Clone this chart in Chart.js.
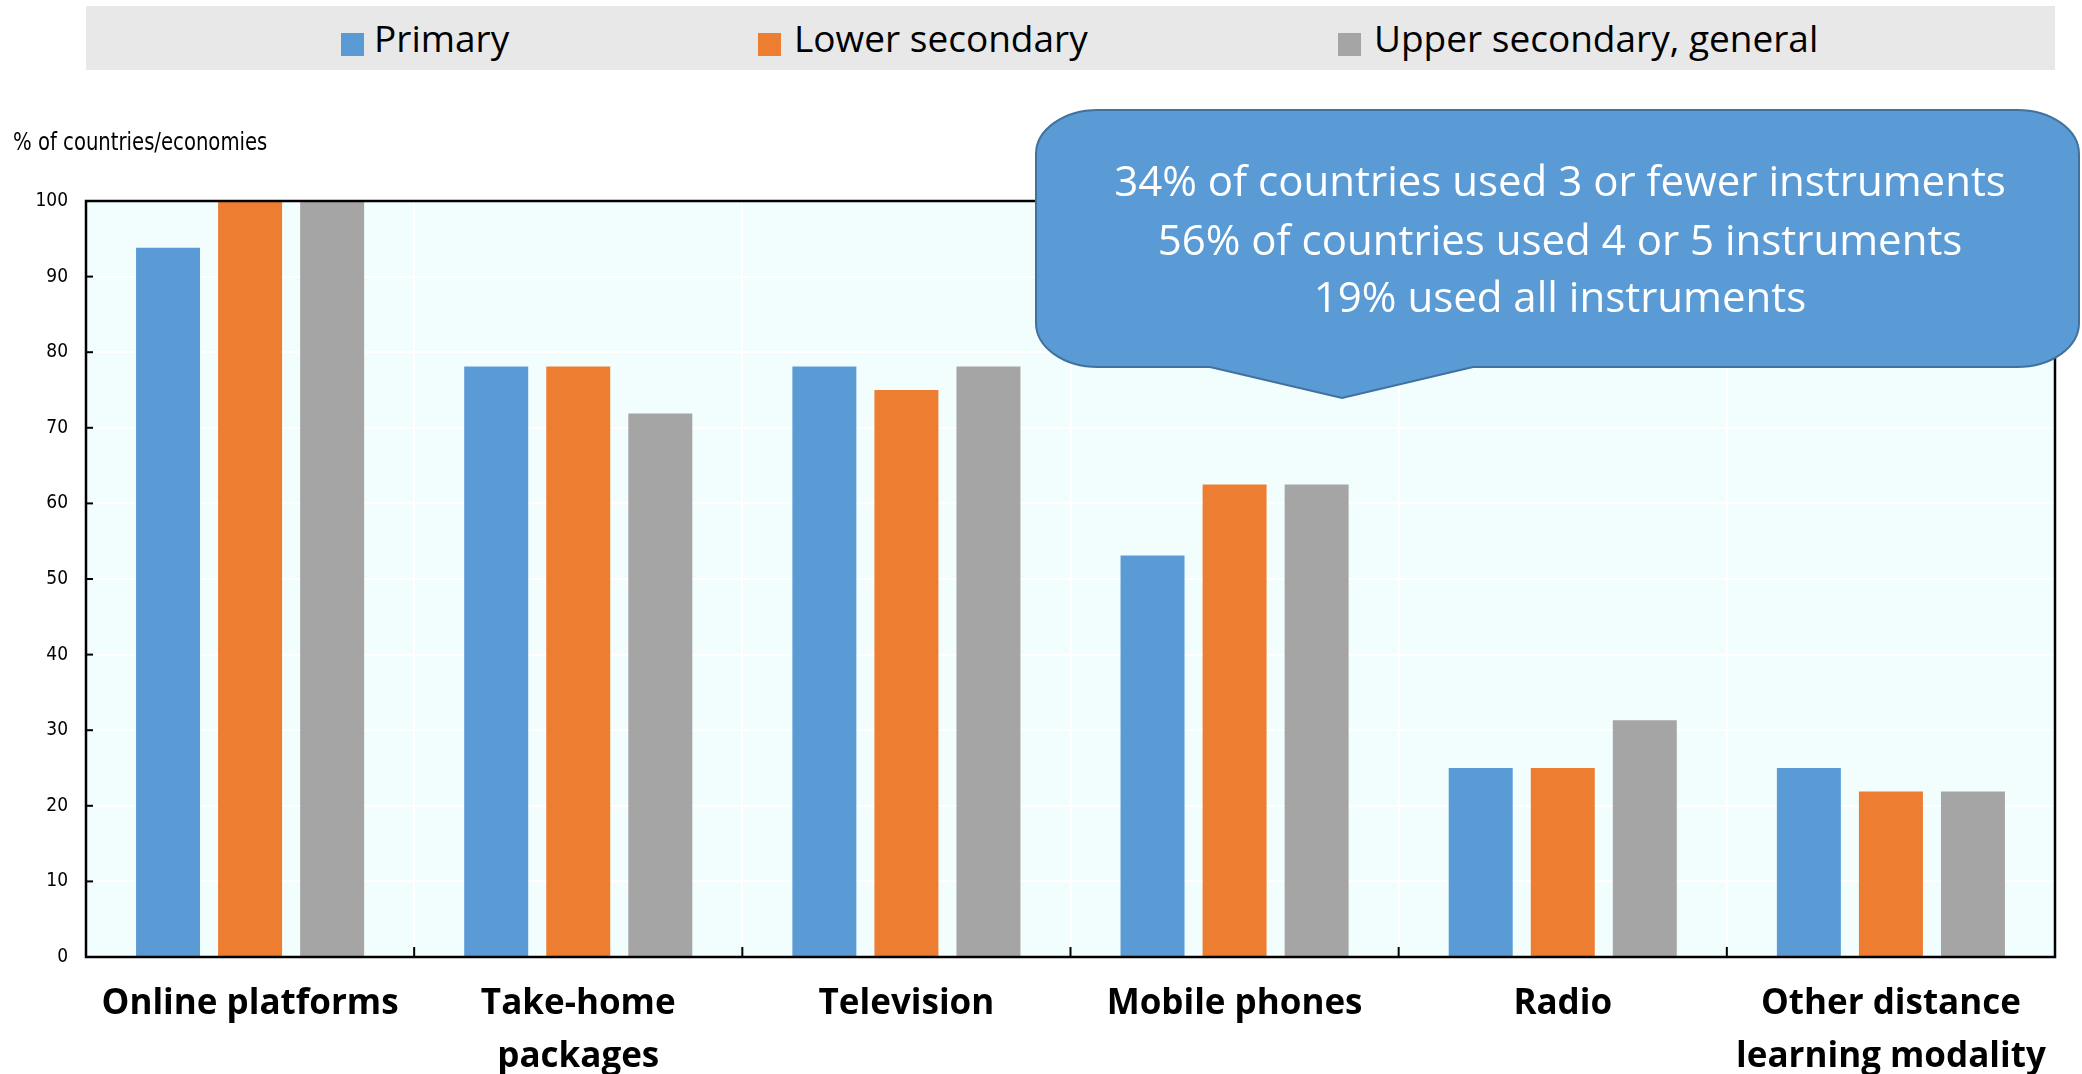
<!DOCTYPE html>
<html>
<head>
<meta charset="utf-8">
<script src="https://cdn.jsdelivr.net/npm/chart.js@4/dist/chart.umd.min.js"></script>
<style>
  html, body { margin: 0; padding: 0; background: #ffffff; }
  #wrap { position: relative; width: 2082px; height: 1074px; overflow: hidden; }
  #c { position: absolute; left: 0; top: 0; }
  #legend { position: absolute; left: 86px; top: 6px; width: 1969px; height: 64px; background: #e8e8e8; }
  .sw { position: absolute; top: 27px; width: 23px; height: 23px; }
  .lt { position: absolute; top: 0; height: 64px; line-height: 64px; font-family: "Open Sans", sans-serif; font-size: 37px; color: #000; white-space: nowrap; }
  #ytitle { position: absolute; left: 13px; top: 130px; font-family: "Liberation Sans Narrow", "DejaVu Sans Condensed", sans-serif; font-size: 24px; line-height: 24px; color: #000; white-space: nowrap; transform: scaleX(0.91); transform-origin: 0 0; }
</style>
</head>
<body>
<div id="wrap">
  <canvas id="c" width="2082" height="1074"></canvas>
  <div id="legend"></div>
  <div id="ytitle"></div>
</div>
<script>
// ---- data ----
const categories = ["Online platforms", ["Take-home", "packages"], "Television", "Mobile phones", "Radio", ["Other distance", "learning modality"]];
const seriesNames = ["Primary", "Lower secondary", "Upper secondary, general"];
const primary = [93.8, 78.1, 78.1, 53.1, 25.0, 25.0];
const lowerSecondary = [100, 78.1, 75.0, 62.5, 25.0, 21.9];
const upperSecondary = [100, 71.9, 78.1, 62.5, 31.3, 21.9];
const yAxisTitle = "% of countries/economies";
const yMin = 0, yMax = 100, yStep = 10;
const calloutLines = [
  "34% of countries used 3 or fewer instruments",
  "56% of countries used 4 or 5 instruments",
  "19% used all instruments"
];

// ---- styles ----
const colors = ["#5b9bd5", "#ed7d31", "#a5a5a5"];
const seriesValues = [primary, lowerSecondary, upperSecondary];

// HTML legend
const legendPos = [{sw: 341, tx: 374}, {sw: 758, tx: 794}, {sw: 1338, tx: 1374}];
const legend = document.getElementById('legend');
seriesNames.forEach((name, i) => {
  const sw = document.createElement('div');
  sw.className = 'sw';
  sw.style.left = (legendPos[i].sw - 86) + 'px';
  sw.style.background = colors[i];
  legend.appendChild(sw);
  const t = document.createElement('div');
  t.className = 'lt';
  t.style.left = (legendPos[i].tx - 86) + 'px';
  t.textContent = name;
  legend.appendChild(t);
});
document.getElementById('ytitle').textContent = yAxisTitle;

const framePlugin = {
  id: 'frame',
  beforeDraw(chart) {
    const {ctx, chartArea: a} = chart;
    ctx.save();
    ctx.fillStyle = '#f2fefe';
    ctx.fillRect(a.left, a.top, a.right - a.left, a.bottom - a.top);
    ctx.restore();
  },
  afterDatasetsDraw(chart) {
    const {ctx, chartArea: a, scales} = chart;
    ctx.save();
    ctx.strokeStyle = '#000';
    ctx.lineWidth = 2;
    scales.y.ticks.forEach(t => {
      const y = scales.y.getPixelForValue(t.value);
      ctx.beginPath(); ctx.moveTo(a.left, y); ctx.lineTo(a.left + 7, y); ctx.stroke();
    });
    for (let i = 1; i < categories.length; i++) {
      const x = (scales.x.getPixelForValue(i - 1) + scales.x.getPixelForValue(i)) / 2;
      ctx.beginPath(); ctx.moveTo(x, a.bottom); ctx.lineTo(x, a.bottom - 10); ctx.stroke();
    }
    ctx.lineWidth = 2.5;
    ctx.strokeRect(a.left, a.top, a.right - a.left, a.bottom - a.top);
    ctx.restore();
  },
  afterDraw(chart) {
    const ctx = chart.ctx;
    const x0 = 1036, y0 = 110, x1 = 2079, y1 = 367, rx = 62, ry = 44;
    const k = 0.5523;
    const pL = 1210, pR = 1473, tipX = 1342, tipY = 398;
    ctx.save();
    ctx.beginPath();
    ctx.moveTo(x0 + rx, y0);
    ctx.lineTo(x1 - rx, y0);
    ctx.bezierCurveTo(x1 - rx + rx * k, y0, x1, y0 + ry - ry * k, x1, y0 + ry);
    ctx.lineTo(x1, y1 - ry);
    ctx.bezierCurveTo(x1, y1 - ry + ry * k, x1 - rx + rx * k, y1, x1 - rx, y1);
    ctx.lineTo(pR, y1);
    ctx.lineTo(tipX, tipY);
    ctx.lineTo(pL, y1);
    ctx.lineTo(x0 + rx, y1);
    ctx.bezierCurveTo(x0 + rx - rx * k, y1, x0, y1 - ry + ry * k, x0, y1 - ry);
    ctx.lineTo(x0, y0 + ry);
    ctx.bezierCurveTo(x0, y0 + ry - ry * k, x0 + rx - rx * k, y0, x0 + rx, y0);
    ctx.closePath();
    ctx.fillStyle = '#5b9bd5';
    ctx.fill();
    ctx.strokeStyle = '#41719c';
    ctx.lineWidth = 2;
    ctx.stroke();
    ctx.fillStyle = '#ffffff';
    ctx.font = '42px "Open Sans", sans-serif';
    ctx.textAlign = 'center';
    ctx.textBaseline = 'alphabetic';
    const baselines = [196, 255, 312];
    calloutLines.forEach((s, i) => ctx.fillText(s, 1560, baselines[i]));
    ctx.restore();
  }
};

new Chart(document.getElementById('c'), {
  type: 'bar',
  data: {
    labels: categories,
    datasets: seriesNames.map((n, i) => ({
      label: n,
      data: seriesValues[i],
      backgroundColor: colors[i],
      borderWidth: 0,
      barPercentage: 0.78,
      categoryPercentage: 0.75
    }))
  },
  options: {
    responsive: false,
    animation: false,
    devicePixelRatio: 1,
    layout: { padding: { top: 201, right: 27, left: 0, bottom: 0 } },
    plugins: { legend: { display: false }, tooltip: { enabled: false }, title: { display: false } },
    scales: {
      x: {
        grid: { color: '#ffffff', lineWidth: 2, offset: true, drawTicks: false },
        border: { display: false },
        ticks: {
          color: '#000',
          font: { family: '"Open Sans", sans-serif', weight: 'bold', size: 35, lineHeight: 1.5 },
          padding: 21,
          maxRotation: 0,
          minRotation: 0,
          autoSkip: false
        },
        afterFit(s) { s.height = 117; }
      },
      y: {
        min: yMin, max: yMax,
        grid: { color: '#ffffff', lineWidth: 2, drawTicks: false },
        border: { display: false },
        ticks: {
          stepSize: yStep,
          color: '#000',
          font: { family: '"Liberation Sans Narrow", "DejaVu Sans Condensed", sans-serif', size: 19 },
          padding: 18
        },
        afterFit(s) { s.width = 86; }
      }
    }
  },
  plugins: [framePlugin]
});
</script>
</body>
</html>
